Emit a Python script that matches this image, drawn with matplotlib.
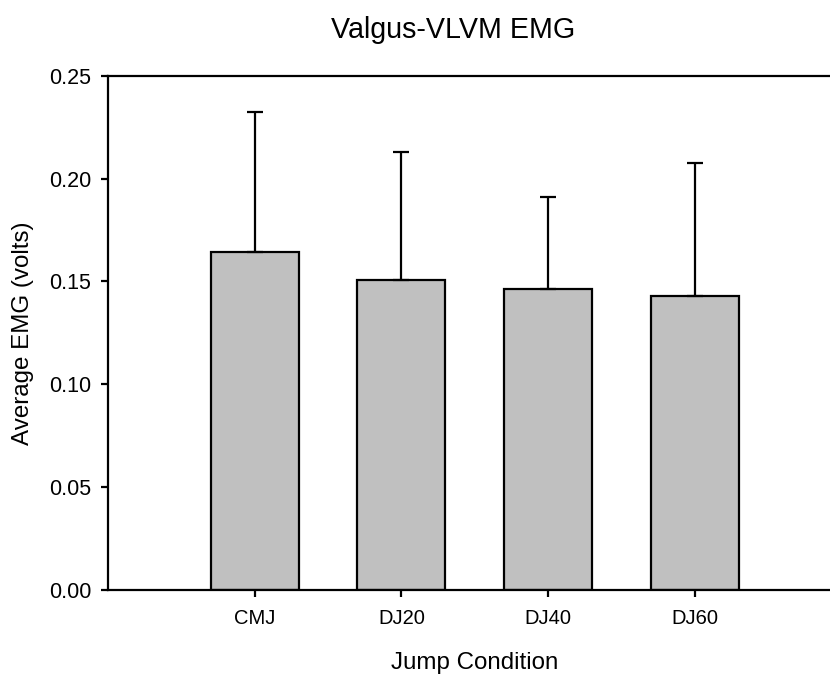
import numpy as np
import matplotlib
matplotlib.use("Agg")
import matplotlib.pyplot as plt

# values
conditions = ["CMJ", "DJ20", "DJ40", "DJ60"]
mean_emg = [0.1642, 0.1509, 0.1463, 0.1428]
sd_emg = [0.0681, 0.0620, 0.0446, 0.0648]
y_ticks = [0.00, 0.05, 0.10, 0.15, 0.20, 0.25]

plt.rcParams['font.family'] = ['Liberation Sans', 'DejaVu Sans']

fig = plt.figure(figsize=(8.3, 6.79), dpi=100)
# right edge of the axes runs past the figure, as in the original crop
ax = fig.add_axes([0.1301, 0.1311, 0.8837, 0.7574])

x = np.arange(1, len(conditions) + 1)
ax.bar(x, mean_emg, width=0.6, color="#c0c0c0", edgecolor="black", linewidth=1.6, zorder=2)
ax.errorbar(x, mean_emg, yerr=[np.zeros(len(sd_emg)), sd_emg], fmt="none",
            ecolor="black", elinewidth=1.6, capsize=5.8, capthick=1.6, zorder=3)

ax.set_xlim(0, 5)
ax.set_ylim(0, 0.25)
ax.set_xticks(x)
ax.set_xticklabels(conditions)
ax.set_yticks(y_ticks)
ax.set_yticklabels(["%.2f" % t for t in y_ticks])

for s in ax.spines.values():
    s.set_linewidth(1.6)
ax.spines["right"].set_visible(False)

ax.tick_params(axis="y", direction="out", length=5, width=1.6, labelsize=15.5, pad=7)
ax.tick_params(axis="x", direction="out", length=5, width=1.6, labelsize=14.5, pad=9)

ax.set_xlabel("Jump Condition", fontsize=17.4, labelpad=17)
ax.set_ylabel("Average EMG (volts)", fontsize=17.4, labelpad=11)
ax.set_title("Valgus-VLVM EMG", fontsize=20.6, pad=27, x=0.47)

fig.savefig("out.png", dpi=100)
